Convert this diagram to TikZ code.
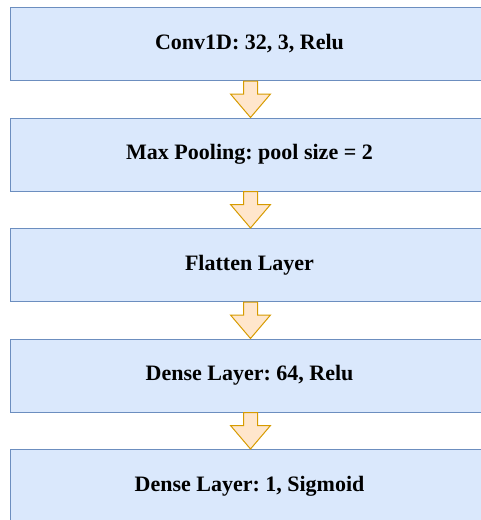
\documentclass[tikz,border=0pt]{standalone}
\usepackage{fontspec}
\setmainfont{Liberation Serif}
\usetikzlibrary{calc}
\definecolor{boxfill}{HTML}{DAE8FC}
\definecolor{boxline}{HTML}{6C8EBF}
\definecolor{arrfill}{HTML}{FFE6CC}
\definecolor{arrline}{HTML}{D79B00}
\tikzset{
  layer/.style={draw=boxline, fill=boxfill, line width=1pt, minimum width=478pt,
    minimum height=73pt, inner sep=0pt, anchor=north west,
    font=\bfseries\fontsize{22}{26}\selectfont},
  flow/.style={draw=arrline, fill=arrfill, line width=1pt, line join=miter}
}
\newcommand\flowarrow[2]{%
  \draw[flow] ($(#1.south)+(-6pt,0)$) -- ($(#1.south)+(-6pt,-13pt)$)
    -- ($(#1.south)+(-19pt,-13pt)$) -- ($(#2.north)+(1pt,0)$)
    -- ($(#1.south)+(21pt,-13pt)$) -- ($(#1.south)+(8pt,-13pt)$)
    -- ($(#1.south)+(8pt,0)$) -- cycle;}
\frenchspacing
\begin{document}
\begin{tikzpicture}[x=1pt,y=-1pt]
\useasboundingbox (0,0) rectangle (480,520);
\node[layer] (l1) at (10,7) {Conv1D: 32, 3, Relu};
\node[layer] (l2) at (10,117.5) {Max Pooling: pool size = 2};
\node[layer] (l3) at (10,228) {Flatten Layer};
\node[layer] (l4) at (10,338.5) {Dense Layer: 64, Relu};
\node[layer] (l5) at (10,449) {Dense Layer: 1, Sigmoid};
\flowarrow{l1}{l2}
\flowarrow{l2}{l3}
\flowarrow{l3}{l4}
\flowarrow{l4}{l5}
\end{tikzpicture}
\end{document}
